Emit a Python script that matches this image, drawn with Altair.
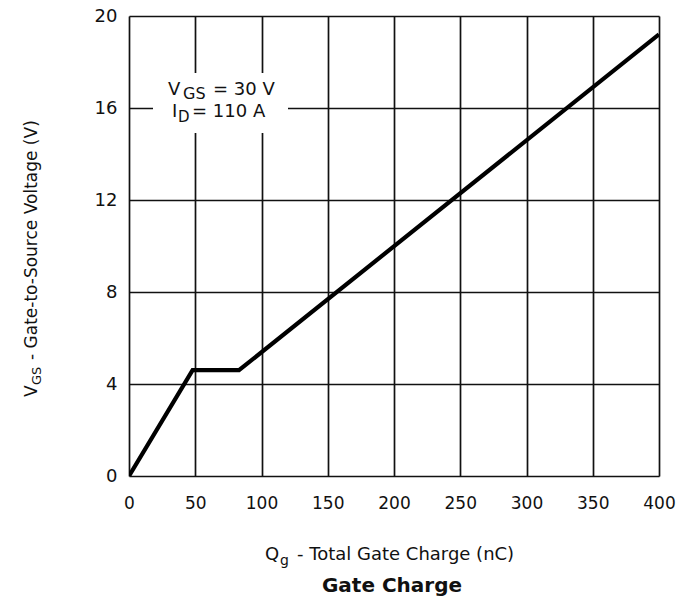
import altair as alt
import pandas as pd

# Gate charge curve
qg_nc = [0, 48, 83, 400]
vgs_v = [0.0, 4.6, 4.6, 19.2]

x_ticks = [0, 50, 100, 150, 200, 250, 300, 350, 400]
y_ticks = [0, 4, 8, 12, 16, 20]

FONT = "DejaVu Sans"

df = pd.DataFrame({"Qg": qg_nc, "VGS": vgs_v})
one = pd.DataFrame({"k": [0]})

x_enc = alt.X("Qg:Q", scale=alt.Scale(domain=[0, 400], nice=False),
              axis=alt.Axis(values=x_ticks, title=None, grid=True, ticks=False,
                            domain=False, labelPadding=19, labelFontSize=17,
                            labelFlush=False, labelOverlap=False,
                            labelFont=FONT, labelColor="#111",
                            gridColor="#111", gridWidth=1.7, gridOpacity=1))
y_enc = alt.Y("VGS:Q", scale=alt.Scale(domain=[0, 20], nice=False),
              axis=alt.Axis(values=y_ticks, title=None, grid=True, ticks=False,
                            domain=False, labelPadding=12, labelFontSize=18,
                            labelFlush=False, labelOverlap=False,
                            labelFont=FONT, labelColor="#111",
                            gridColor="#111", gridWidth=1.7, gridOpacity=1))

curve = alt.Chart(df).mark_line(color="black", strokeWidth=4.2, clip=True).encode(
    x=x_enc, y=y_enc)


def txt(s, x, y, size, angle=0, bold=False, align="left"):
    kw = dict(text=s, font=FONT, fontSize=size, color="#111", align=align,
              baseline="alphabetic", fontWeight="bold" if bold else "normal")
    if angle:
        kw["angle"] = angle
    return alt.Chart(one).mark_text(**kw).encode(x=alt.value(x), y=alt.value(y))


box = alt.Chart(one).mark_rect(color="white").encode(
    x=alt.value(24), x2=alt.value(159), y=alt.value(57), y2=alt.value(117))

layers = [
    curve,
    box,
    # annotation
    txt("V", 39, 79, 18),
    txt("GS", 54, 83, 16),
    txt("= 30 V", 84, 79, 18),
    txt("I", 43, 101, 18),
    txt("D", 49, 106, 15),
    txt("= 110 A", 63, 101, 18),
    # x axis title
    txt("Q", 136, 544, 18),
    txt("g", 151, 549, 14),
    txt("- Total Gate Charge (nC)", 168, 544, 18),
    # chart caption
    txt("Gate Charge", 263, 576, 20, bold=True, align="center"),
    # y axis title (rotated)
    txt("V", -92, 381, 17, angle=270),
    txt("GS", -88, 369, 13, angle=270),
    txt("- Gate-to-Source Voltage (V)", -92, 344, 17, angle=270),
]

chart = alt.layer(*layers).properties(
    width=530, height=460,
    autosize=alt.AutoSizeParams(type="none"),
    padding={"left": 121, "top": 8, "right": 20, "bottom": 121},
).configure_view(stroke="#111", strokeWidth=2).configure(background="white")

chart.save("out.html", embed_options={"renderer": "svg", "actions": False})
